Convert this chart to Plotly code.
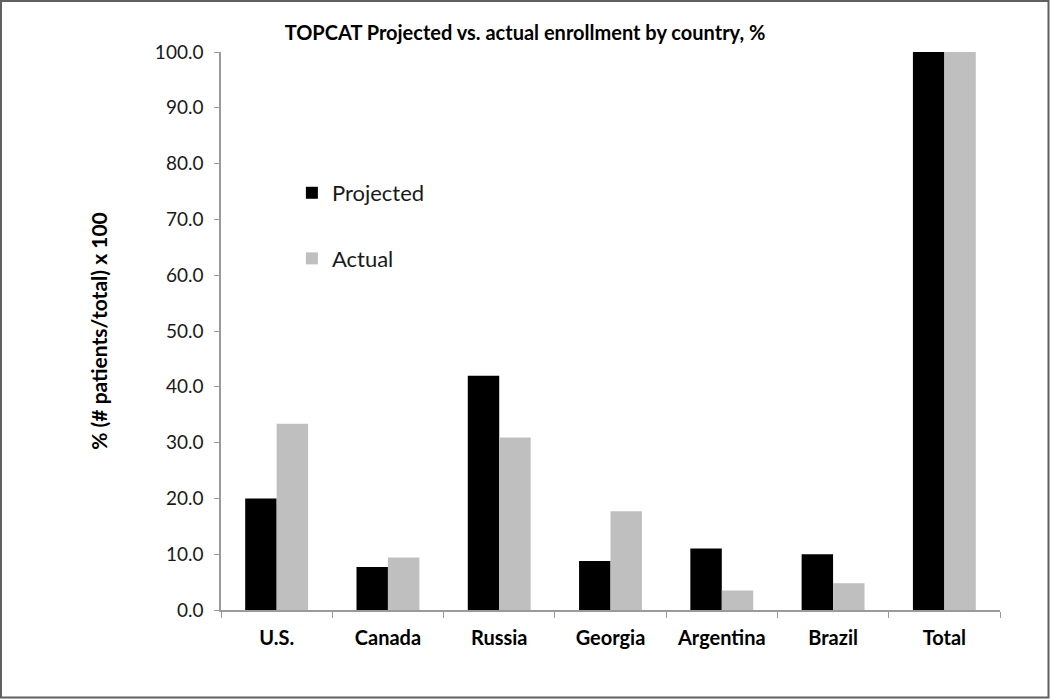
import plotly.graph_objects as go

categories = ["U.S.", "Canada", "Russia", "Georgia", "Argentina", "Brazil", "Total"]
projected = [20.0, 7.7, 42.0, 8.8, 11.0, 10.0, 100.0]
actual = [33.4, 9.4, 30.9, 17.7, 3.5, 4.8, 100.0]
y_ticks = [0, 10, 20, 30, 40, 50, 60, 70, 80, 90, 100]
y_tick_labels = [f"{v:.1f}" for v in y_ticks]

FONT = "Lato, 'Open Sans', sans-serif"
L, R, T, B = 221, 50, 52, 89
PW, PH = 1050 - L - R, 699 - T - B

fig = go.Figure()
fig.add_trace(go.Bar(x=categories, y=projected, name="Projected",
                     marker=dict(color="#000000", line=dict(width=0)),
                     legendgroup="p"))
fig.add_trace(go.Bar(x=categories, y=actual, name="Actual",
                     marker=dict(color="#bfbfbf", line=dict(width=0)),
                     legendgroup="a"))

fig.update_layout(
    width=1050, height=699,
    paper_bgcolor="white", plot_bgcolor="white",
    margin=dict(l=L, r=R, t=T, b=B),
    barmode="group", bargap=0.435, bargroupgap=0,
    font=dict(family=FONT, color="#1a1a1a"),
    title=dict(text="<b>TOPCAT Projected vs. actual enrollment by country, %</b>",
               x=0.5, xanchor="center", y=1 - 33 / 699, yanchor="middle",
               font=dict(size=20, color="#000000")),
    legend=dict(x=0.091, y=0.785, xanchor="left", yanchor="top",
                font=dict(size=22, color="#1a1a1a"),
                tracegroupgap=34, bgcolor="rgba(0,0,0,0)",
                itemwidth=30),
    showlegend=True,
)
fig.update_xaxes(
    showline=True, linecolor="#9a9a9a", linewidth=1.5,
    ticks="outside", tickson="boundaries", ticklen=6, tickcolor="#9a9a9a",
    tickfont=dict(size=20, color="#000000", family=FONT),
    tickprefix="<b>", ticksuffix="</b>",
    ticklabelstandoff=9,
    showgrid=False,
)
fig.update_yaxes(
    range=[0, 100], tickvals=y_ticks, ticktext=y_tick_labels,
    showline=True, linecolor="#9a9a9a", linewidth=1.5,
    ticks="outside", ticklen=5, tickcolor="#9a9a9a",
    tickfont=dict(size=19, color="#1a1a1a", family=FONT),
    ticklabelstandoff=7,
    showgrid=False, zeroline=False,
    title=dict(text="<b>% (# patients/total) x 100</b>",
               font=dict(size=21, color="#000000"), standoff=42),
)
fig.add_shape(type="rect", xref="paper", yref="paper",
              x0=(1 - L) / PW, x1=(1048.5 - L) / PW,
              y0=(T + PH - 697.5) / PH, y1=(T + PH - 1) / PH,
              line=dict(color="#606060", width=2), fillcolor="rgba(0,0,0,0)")

fig.write_html("out.html", config={"displayModeBar": False},
               post_script="document.body.style.margin='0';")
